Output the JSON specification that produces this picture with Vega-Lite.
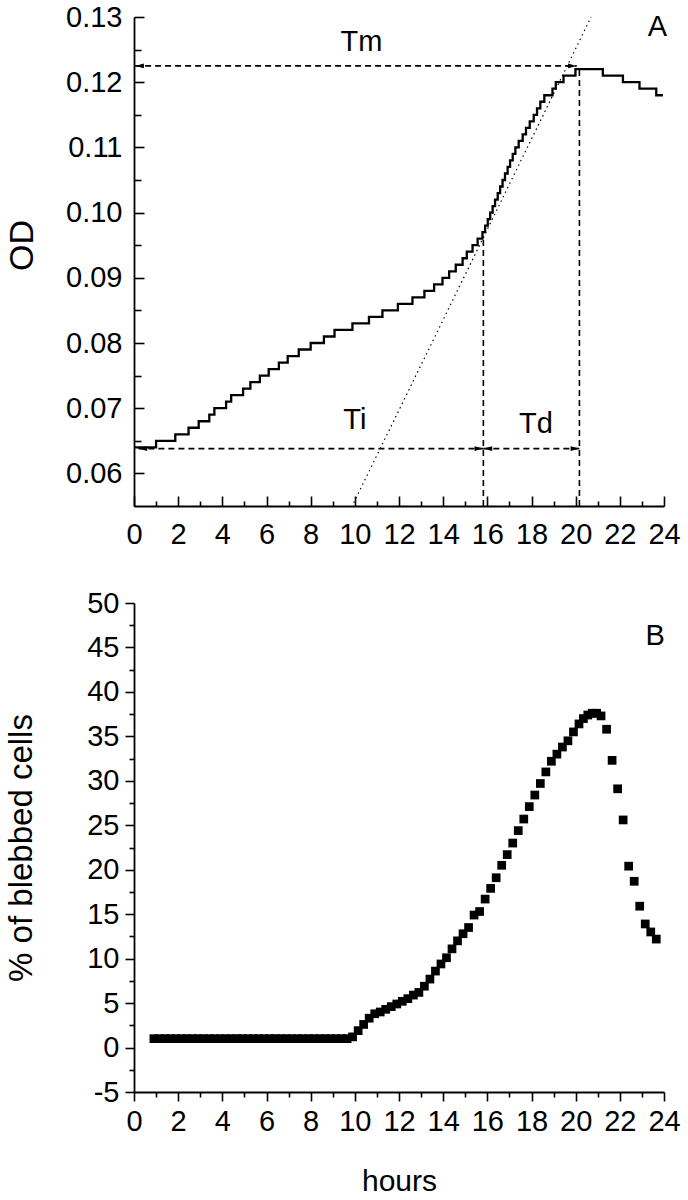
{
  "$schema": "https://vega.github.io/schema/vega-lite/v6.json",
  "padding": {"left": 5, "top": 3, "right": 5, "bottom": 0},
  "background": "white",
  "config": {
    "font": "Liberation Sans",
    "view": {"stroke": null},
    "axis": {
      "grid": false,
      "domainColor": "black",
      "domainWidth": 1.8,
      "tickColor": "black",
      "tickWidth": 1.6,
      "labelColor": "black",
      "labelFont": "Liberation Sans",
      "labelFontSize": 29,
      "labelFlush": false,
      "labelOverlap": false,
      "titleColor": "black",
      "titleFont": "Liberation Sans",
      "titleFontSize": 33,
      "titleFontWeight": "normal"
    }
  },
  "datasets": {
    "od": [
      {"h": 0, "od": 0.064}, {"h": 1.0, "od": 0.065}, {"h": 1.87, "od": 0.066}, {"h": 2.47, "od": 0.067},
      {"h": 2.93, "od": 0.068}, {"h": 3.41, "od": 0.069}, {"h": 3.64, "od": 0.070}, {"h": 4.17, "od": 0.071},
      {"h": 4.4, "od": 0.072}, {"h": 4.94, "od": 0.073}, {"h": 5.27, "od": 0.074}, {"h": 5.7, "od": 0.075},
      {"h": 6.1, "od": 0.076}, {"h": 6.56, "od": 0.077}, {"h": 6.96, "od": 0.078}, {"h": 7.46, "od": 0.079},
      {"h": 8.0, "od": 0.080}, {"h": 8.6, "od": 0.081}, {"h": 9.08, "od": 0.082}, {"h": 9.89, "od": 0.083},
      {"h": 10.64, "od": 0.084}, {"h": 11.25, "od": 0.085}, {"h": 11.95, "od": 0.086}, {"h": 12.61, "od": 0.087},
      {"h": 13.15, "od": 0.088}, {"h": 13.59, "od": 0.089}, {"h": 13.97, "od": 0.090}, {"h": 14.27, "od": 0.091},
      {"h": 14.57, "od": 0.092}, {"h": 14.88, "od": 0.093}, {"h": 15.07, "od": 0.094}, {"h": 15.33, "od": 0.095},
      {"h": 15.56, "od": 0.096}, {"h": 15.78, "od": 0.097}, {"h": 15.9, "od": 0.098}, {"h": 16.02, "od": 0.099},
      {"h": 16.13, "od": 0.100}, {"h": 16.24, "od": 0.101}, {"h": 16.35, "od": 0.102}, {"h": 16.47, "od": 0.103},
      {"h": 16.58, "od": 0.104}, {"h": 16.69, "od": 0.105}, {"h": 16.8, "od": 0.106}, {"h": 16.92, "od": 0.107},
      {"h": 17.03, "od": 0.108}, {"h": 17.15, "od": 0.109}, {"h": 17.27, "od": 0.110}, {"h": 17.42, "od": 0.111},
      {"h": 17.6, "od": 0.112}, {"h": 17.75, "od": 0.113}, {"h": 17.92, "od": 0.114}, {"h": 18.1, "od": 0.115},
      {"h": 18.25, "od": 0.116}, {"h": 18.4, "od": 0.117}, {"h": 18.58, "od": 0.118}, {"h": 18.95, "od": 0.119},
      {"h": 19.1, "od": 0.120}, {"h": 19.45, "od": 0.121}, {"h": 19.99, "od": 0.122}, {"h": 21.23, "od": 0.121},
      {"h": 22.14, "od": 0.120}, {"h": 22.89, "od": 0.119}, {"h": 23.65, "od": 0.118}, {"h": 23.95, "od": 0.118}
    ],
    "blebs": [
      {"h": 0.9, "p": 1.0}, {"h": 1.15, "p": 1.0}, {"h": 1.4, "p": 1.0}, {"h": 1.65, "p": 1.0}, {"h": 1.9, "p": 1.0},
      {"h": 2.15, "p": 1.0}, {"h": 2.4, "p": 1.0}, {"h": 2.65, "p": 1.0}, {"h": 2.9, "p": 1.0}, {"h": 3.15, "p": 1.0},
      {"h": 3.4, "p": 1.0}, {"h": 3.65, "p": 1.0}, {"h": 3.9, "p": 1.0}, {"h": 4.15, "p": 1.0}, {"h": 4.4, "p": 1.0},
      {"h": 4.65, "p": 1.0}, {"h": 4.9, "p": 1.0}, {"h": 5.15, "p": 1.0}, {"h": 5.4, "p": 1.0}, {"h": 5.65, "p": 1.0},
      {"h": 5.9, "p": 1.0}, {"h": 6.15, "p": 1.0}, {"h": 6.4, "p": 1.0}, {"h": 6.65, "p": 1.0}, {"h": 6.9, "p": 1.0},
      {"h": 7.15, "p": 1.0}, {"h": 7.4, "p": 1.0}, {"h": 7.65, "p": 1.0}, {"h": 7.9, "p": 1.0}, {"h": 8.15, "p": 1.0},
      {"h": 8.4, "p": 1.0}, {"h": 8.65, "p": 1.0}, {"h": 8.9, "p": 1.0}, {"h": 9.15, "p": 1.0}, {"h": 9.4, "p": 1.0},
      {"h": 9.65, "p": 1.0}, {"h": 9.9, "p": 1.2}, {"h": 10.15, "p": 1.9}, {"h": 10.4, "p": 2.6}, {"h": 10.65, "p": 3.3},
      {"h": 10.9, "p": 3.8}, {"h": 11.15, "p": 4.0}, {"h": 11.4, "p": 4.3}, {"h": 11.65, "p": 4.6}, {"h": 11.9, "p": 4.9},
      {"h": 12.15, "p": 5.2}, {"h": 12.4, "p": 5.5}, {"h": 12.65, "p": 5.9}, {"h": 12.9, "p": 6.2}, {"h": 13.15, "p": 6.9},
      {"h": 13.4, "p": 7.7}, {"h": 13.65, "p": 8.6}, {"h": 13.9, "p": 9.4}, {"h": 14.15, "p": 10.1}, {"h": 14.4, "p": 11.1},
      {"h": 14.65, "p": 12.0}, {"h": 14.9, "p": 12.8}, {"h": 15.15, "p": 13.5}, {"h": 15.4, "p": 14.9}, {"h": 15.65, "p": 15.3},
      {"h": 15.9, "p": 16.7}, {"h": 16.15, "p": 17.9}, {"h": 16.4, "p": 19.1}, {"h": 16.65, "p": 20.5}, {"h": 16.9, "p": 21.7},
      {"h": 17.15, "p": 23.0}, {"h": 17.4, "p": 24.4}, {"h": 17.65, "p": 25.7}, {"h": 17.9, "p": 27.1}, {"h": 18.15, "p": 28.4},
      {"h": 18.4, "p": 29.7}, {"h": 18.65, "p": 31.0}, {"h": 18.9, "p": 32.2}, {"h": 19.15, "p": 33.0}, {"h": 19.4, "p": 33.8},
      {"h": 19.65, "p": 34.5}, {"h": 19.9, "p": 35.5}, {"h": 20.15, "p": 36.4}, {"h": 20.35, "p": 37.0}, {"h": 20.55, "p": 37.4},
      {"h": 20.75, "p": 37.6}, {"h": 20.95, "p": 37.6}, {"h": 21.15, "p": 37.3}, {"h": 21.4, "p": 35.8}, {"h": 21.65, "p": 32.3},
      {"h": 21.9, "p": 29.1}, {"h": 22.15, "p": 25.6}, {"h": 22.4, "p": 20.4}, {"h": 22.65, "p": 18.7}, {"h": 22.9, "p": 15.9},
      {"h": 23.15, "p": 13.9}, {"h": 23.4, "p": 13.0}, {"h": 23.65, "p": 12.2}
    ],
    "arrows": [
      {"name": "Tm", "x1": 0.05, "x2": 20.05, "y": 0.1225},
      {"name": "Ti", "x1": 0.2, "x2": 15.82, "y": 0.0638},
      {"name": "Td", "x1": 15.82, "x2": 20.17, "y": 0.0638}
    ],
    "heads": [
      {"h": 0.05, "y": 0.1225, "dir": "left"},
      {"h": 20.05, "y": 0.1225, "dir": "right"},
      {"h": 0.2, "y": 0.0638, "dir": "left"},
      {"h": 15.82, "y": 0.0638, "dir": "right"},
      {"h": 15.82, "y": 0.0638, "dir": "left"},
      {"h": 20.17, "y": 0.0638, "dir": "right"}
    ],
    "vlines": [
      {"h": 15.82, "y1": 0.055, "y2": 0.0963},
      {"h": 20.17, "y1": 0.055, "y2": 0.1222}
    ],
    "tangent": [
      {"h": 9.95, "od": 0.0555},
      {"h": 20.7, "od": 0.13}
    ],
    "labelsA": [
      {"h": 10.3, "y": 0.1262, "t": "Tm"},
      {"h": 10.0, "y": 0.0682, "t": "Ti"},
      {"h": 18.2, "y": 0.0676, "t": "Td"},
      {"h": 23.7, "y": 0.1284, "t": "A"}
    ],
    "labelsB": [
      {"h": 23.6, "p": 46.3, "t": "B"}
    ]
  },
  "vconcat": [
    {
      "width": 530,
      "height": 489,
      "layer": [
        {
          "data": {"name": "od"},
          "mark": {"type": "line", "interpolate": "step-after", "color": "black", "strokeWidth": 2.3},
          "encoding": {
            "x": {"field": "h", "type": "quantitative", "scale": {"domain": [0, 24], "nice": false, "zero": false},
                  "axis": {"orient": "bottom", "values": [0, 2, 4, 6, 8, 10, 12, 14, 16, 18, 20, 22, 24], "ticks": false, "labelPadding": 14, "title": null}},
            "y": {"field": "od", "type": "quantitative", "scale": {"domain": [0.055, 0.13], "nice": false, "zero": false},
                  "axis": {"orient": "left", "values": [0.06, 0.07, 0.08, 0.09, 0.10, 0.11, 0.12, 0.13], "format": ".2f", "ticks": false, "labelPadding": 12, "title": "OD", "titleFontSize": 34, "titlePadding": 26, "titleY": 228}}
          }
        },
        {
          "data": {"name": "od"},
          "mark": {"type": "line", "opacity": 0},
          "encoding": {
            "x": {"field": "h", "type": "quantitative",
                  "axis": {"orient": "bottom", "offset": -10, "values": [0, 2, 4, 6, 8, 10, 12, 14, 16, 18, 20, 22, 24], "tickSize": 10, "labels": false, "domain": false, "title": null}},
            "y": {"field": "od", "type": "quantitative",
                  "axis": {"orient": "left", "offset": -10, "values": [0.06, 0.07, 0.08, 0.09, 0.10, 0.11, 0.12, 0.13], "tickSize": 10, "labels": false, "domain": false, "title": null}}
          }
        },
        {
          "data": {"name": "od"},
          "mark": {"type": "line", "opacity": 0},
          "encoding": {
            "x": {"field": "h", "type": "quantitative",
                  "axis": {"orient": "bottom", "offset": -5, "values": [1, 3, 5, 7, 9, 11, 13, 15, 17, 19, 21, 23], "tickSize": 5, "labels": false, "domain": false, "title": null}},
            "y": {"field": "od", "type": "quantitative",
                  "axis": {"orient": "left", "offset": -7, "values": [0.065, 0.075, 0.085, 0.095, 0.105, 0.115, 0.125], "tickSize": 7, "labels": false, "domain": false, "title": null}}
          }
        },
        {
          "data": {"name": "tangent"},
          "mark": {"type": "line", "color": "black", "strokeWidth": 1.2, "strokeDash": [1.5, 3.5]},
          "encoding": {
            "x": {"field": "h", "type": "quantitative", "axis": null},
            "y": {"field": "od", "type": "quantitative", "axis": null}
          }
        },
        {
          "data": {"name": "arrows"},
          "mark": {"type": "rule", "color": "black", "strokeWidth": 1.6, "strokeDash": [6, 4]},
          "encoding": {
            "x": {"field": "x1", "type": "quantitative", "axis": null},
            "x2": {"field": "x2"},
            "y": {"field": "y", "type": "quantitative", "axis": null}
          }
        },
        {
          "data": {"name": "vlines"},
          "mark": {"type": "rule", "color": "black", "strokeWidth": 1.6, "strokeDash": [6, 4]},
          "encoding": {
            "x": {"field": "h", "type": "quantitative", "axis": null},
            "y": {"field": "y1", "type": "quantitative", "axis": null},
            "y2": {"field": "y2"}
          }
        },
        {
          "data": {"name": "heads"},
          "transform": [{"filter": "datum.dir === 'left'"}],
          "mark": {"type": "point", "filled": true, "color": "black", "opacity": 1, "size": 64, "strokeWidth": 0, "shape": "M0,0L2.2,-0.6L2.2,0.6Z"},
          "encoding": {
            "x": {"field": "h", "type": "quantitative", "axis": null},
            "y": {"field": "y", "type": "quantitative", "axis": null}
          }
        },
        {
          "data": {"name": "heads"},
          "transform": [{"filter": "datum.dir === 'right'"}],
          "mark": {"type": "point", "filled": true, "color": "black", "opacity": 1, "size": 64, "strokeWidth": 0, "shape": "M0,0L-2.2,-0.6L-2.2,0.6Z"},
          "encoding": {
            "x": {"field": "h", "type": "quantitative", "axis": null},
            "y": {"field": "y", "type": "quantitative", "axis": null}
          }
        },
        {
          "data": {"name": "labelsA"},
          "mark": {"type": "text", "color": "black", "fontSize": 29, "font": "Liberation Sans", "align": "center", "baseline": "middle"},
          "encoding": {
            "x": {"field": "h", "type": "quantitative", "axis": null},
            "y": {"field": "y", "type": "quantitative", "axis": null},
            "text": {"field": "t"}
          }
        }
      ],
      "resolve": {"axis": {"x": "independent", "y": "independent"}}
    },
    {
      "width": 530,
      "height": 489,
      "layer": [
        {
          "data": {"name": "blebs"},
          "mark": {"type": "square", "color": "black", "filled": true, "opacity": 1, "size": 76},
          "encoding": {
            "x": {"field": "h", "type": "quantitative", "scale": {"domain": [0, 24], "nice": false, "zero": false},
                  "axis": {"orient": "bottom", "values": [0, 2, 4, 6, 8, 10, 12, 14, 16, 18, 20, 22, 24], "tickSize": 9, "labelPadding": 6, "title": "hours", "titleFontSize": 30, "titlePadding": 30}},
            "y": {"field": "p", "type": "quantitative", "scale": {"domain": [-5, 50], "nice": false, "zero": false},
                  "axis": {"orient": "left", "values": [-5, 0, 5, 10, 15, 20, 25, 30, 35, 40, 45, 50], "labelExpr": "'' + datum.value", "tickSize": 9, "labelPadding": 6, "title": "% of blebbed cells", "titlePadding": 48}}
          }
        },
        {
          "data": {"name": "blebs"},
          "mark": {"type": "point", "opacity": 0},
          "encoding": {
            "x": {"field": "h", "type": "quantitative",
                  "axis": {"orient": "bottom", "values": [1, 3, 5, 7, 9, 11, 13, 15, 17, 19, 21, 23], "tickSize": 5, "labels": false, "domain": false, "title": null}},
            "y": {"field": "p", "type": "quantitative",
                  "axis": {"orient": "left", "values": [-2.5, 2.5, 7.5, 12.5, 17.5, 22.5, 27.5, 32.5, 37.5, 42.5, 47.5], "tickSize": 5, "labels": false, "domain": false, "title": null}}
          }
        },
        {
          "data": {"name": "labelsB"},
          "mark": {"type": "text", "color": "black", "fontSize": 29, "font": "Liberation Sans", "align": "center", "baseline": "middle"},
          "encoding": {
            "x": {"field": "h", "type": "quantitative", "axis": null},
            "y": {"field": "p", "type": "quantitative", "axis": null},
            "text": {"field": "t"}
          }
        }
      ],
      "resolve": {"axis": {"x": "independent", "y": "independent"}}
    }
  ],
  "spacing": 40
}
